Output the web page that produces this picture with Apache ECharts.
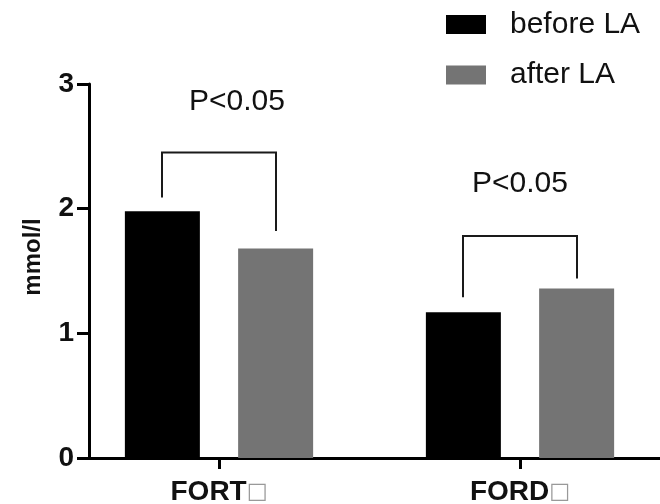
<!DOCTYPE html>
<html>
<head>
<meta charset="utf-8">
<script src="https://cdn.jsdelivr.net/npm/echarts@6/dist/echarts.min.js"></script>
<style>html,body{margin:0;padding:0;background:#fff;}#c{width:660px;height:504px;}</style>
</head>
<body>
<div id="c"></div>
<script>
// ---- data ----
const categories = ['FORT□', 'FORD□'];
const seriesNames = ['before LA', 'after LA'];
const beforeLA = [1.98, 1.17];
const afterLA = [1.68, 1.36];
const yMin = 0, yMax = 3, yInterval = 1;
const yAxisName = 'mmol/l';
// significance brackets (values in mmol/l)
const bracketTop = [2.45, 1.78];
const bracketLeftEnd = [2.09, 1.29];
const bracketRightEnd = [1.82, 1.44];
const pLabels = ['P<0.05', 'P<0.05'];
const pLabelLevel = [2.86, 2.2];

// ---- styles ----
const FONT = "'Liberation Sans', Arial, Helvetica, sans-serif";
const BAR_W = 75;
const HALF = 57;
const LABEL_DX = [18, 0];
const GRID_TOP = 84, GRID_H = 374;

const chart = echarts.init(document.getElementById('c'), null, {renderer: 'canvas'});

function renderBracket(params, api) {
  const i = api.value(0);
  const c = api.coord([i, api.value(1)]);
  const yl = api.coord([i, api.value(2)])[1];
  const yr = api.coord([i, api.value(3)])[1];
  const pt = api.coord([i, api.value(4)]);
  const xl = c[0] - HALF, xr = c[0] + HALF;
  return {
    type: 'group',
    children: [
      {type: 'polyline', shape: {points: [[xl, yl], [xl, c[1]], [xr, c[1]], [xr, yr]]},
       style: {stroke: '#1a1a1a', lineWidth: 2, fill: null}},
      {type: 'text', x: pt[0] + LABEL_DX[i], y: pt[1],
       style: {text: pLabels[i], fontSize: 30, fontFamily: FONT, fill: '#111', align: 'center', verticalAlign: 'middle'}}
    ]
  };
}

const bracketData = categories.map((c, i) => [i, bracketTop[i], bracketLeftEnd[i], bracketRightEnd[i], pLabelLevel[i]]);

chart.setOption({
  animation: false,
  backgroundColor: '#fff',
  legend: {
    data: seriesNames,
    orient: 'vertical',
    left: 446, top: 9.5,
    padding: 0,
    icon: 'rect',
    itemWidth: 40, itemHeight: 19, itemGap: 20.5,
    textStyle: {fontSize: 30, lineHeight: 30, fontFamily: FONT, color: '#111', padding: [0, 0, 0, 19]}
  },
  grid: [
    {left: 89, top: GRID_TOP, height: GRID_H, width: 620, outerBoundsMode: 'none', containLabel: false},
    {left: 68.5, top: GRID_TOP, height: GRID_H, width: 602, outerBoundsMode: 'none', containLabel: false}
  ],
  xAxis: [
    {gridIndex: 0, type: 'value', min: 0, max: 1,
     axisLine: {show: true, lineStyle: {color: '#000', width: 3}},
     axisTick: {show: false}, axisLabel: {show: false}, splitLine: {show: false}},
    {gridIndex: 1, type: 'category', data: categories,
     axisLine: {show: false},
     axisTick: {show: true, alignWithLabel: true, length: 11, lineStyle: {color: '#000', width: 3}},
     axisLabel: {margin: 20, fontSize: 28, fontWeight: 'bold', fontFamily: FONT, color: '#111',
       formatter: v => v.slice(0, -1) + '{b|' + v.slice(-1) + '}',
       rich: {b: {fontSize: 22, fontWeight: 'normal', color: '#999', fontFamily: 'DejaVu Sans'}}},
     splitLine: {show: false}}
  ],
  yAxis: [
    {gridIndex: 0, type: 'value', min: yMin, max: yMax, interval: yInterval,
     name: yAxisName, nameLocation: 'middle', nameGap: 44,
     nameTextStyle: {fontSize: 24, fontWeight: 'bold', fontFamily: FONT, color: '#111', padding: [0, 0, 0, 28]},
     axisLine: {show: true, lineStyle: {color: '#000', width: 3}},
     axisTick: {show: true, length: 12, lineStyle: {color: '#000', width: 3}},
     axisLabel: {margin: 15, fontSize: 28, fontWeight: 'bold', fontFamily: FONT, color: '#111'},
     splitLine: {show: false}},
    {gridIndex: 1, type: 'value', min: yMin, max: yMax, interval: yInterval, show: false}
  ],
  series: [
    {name: seriesNames[0], type: 'bar', xAxisIndex: 1, yAxisIndex: 1, data: beforeLA,
     barWidth: BAR_W, barGap: '51%', itemStyle: {color: '#000'}, z: 1},
    {name: seriesNames[1], type: 'bar', xAxisIndex: 1, yAxisIndex: 1, data: afterLA,
     barWidth: BAR_W, itemStyle: {color: '#747474'}, z: 1},
    {type: 'custom', xAxisIndex: 1, yAxisIndex: 1, data: bracketData, renderItem: renderBracket,
     silent: true, z: 5, clip: false}
  ]
});
</script>
</body>
</html>
